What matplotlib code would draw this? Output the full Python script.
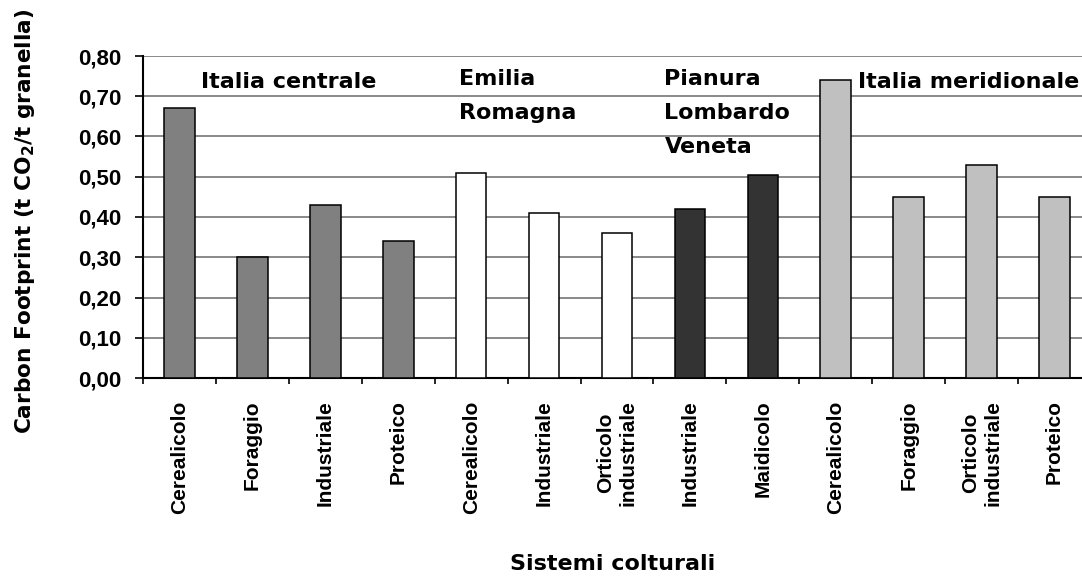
import numpy as np
import matplotlib.pyplot as plt

plt.rcParams['font.family'] = ['Liberation Sans', 'DejaVu Sans']
plt.rcParams['font.weight'] = 'bold'

# systems (x tick labels) and carbon footprint values
sistemi = ['Cerealicolo', 'Foraggio', 'Industriale', 'Proteico',
           'Cerealicolo', 'Industriale', 'Orticolo\nindustriale',
           'Industriale', 'Maidicolo',
           'Cerealicolo', 'Foraggio', 'Orticolo\nindustriale', 'Proteico']
footprint = [0.67, 0.30, 0.43, 0.34,
             0.51, 0.41, 0.36,
             0.42, 0.505,
             0.74, 0.45, 0.53, 0.45]
regione = ['centrale'] * 4 + ['emilia'] * 3 + ['padana'] * 2 + ['meridionale'] * 4
colori = {'centrale': '#808080', 'emilia': '#ffffff',
          'padana': '#333333', 'meridionale': '#c0c0c0'}

# wider font for the big labels (the original is letter-spaced)
wide = ['DejaVu Sans']

fig = plt.figure(figsize=(10.82, 5.76), dpi=100)
ax = fig.add_axes([143 / 1082, 1 - 378 / 576, 948 / 1082, 322 / 576])

x = np.arange(len(footprint))
ax.bar(x, footprint, width=0.42, color=[colori[r] for r in regione],
       edgecolor='black', linewidth=1.1, zorder=3)

ax.set_xlim(-0.5, len(footprint) - 0.5)
ax.set_ylim(0, 0.80)
ax.set_yticks(np.arange(0, 0.81, 0.10))
ax.set_yticklabels([f'{v:.2f}'.replace('.', ',') for v in np.arange(0, 0.81, 0.10)],
                   fontsize=16, fontweight='bold')
ax.yaxis.grid(True, color='#808080', linewidth=1.3, zorder=0)
ax.tick_params(axis='y', direction='out', length=5.8, width=1.2, pad=10)

ax.set_xticks(x)
ax.set_xticklabels(sistemi, rotation=90, fontsize=15, fontweight='bold',
                   va='top', ha='center', multialignment='center')
ax.set_xticks(np.arange(-0.5, len(footprint)), minor=True)
ax.tick_params(axis='x', which='major', length=0, pad=16)
ax.tick_params(axis='x', which='minor', direction='out', length=4, width=1.2)

for s in ['top', 'right']:
    ax.spines[s].set_visible(False)
for s in ['left', 'bottom']:
    ax.spines[s].set_linewidth(1.5)

# region labels
def etichetta(xd, righe, y0):
    for i, riga in enumerate(righe):
        ax.text(xd, y0 - i * 0.0845, riga, fontsize=16, fontweight='bold',
                family=wide, ha='left', va='center', zorder=4)

etichetta(0.30, ['Italia centrale'], 0.735)
etichetta(3.83, ['Emilia', 'Romagna'], 0.743)
etichetta(6.65, ['Pianura', 'Lombardo', 'Veneta'], 0.743)
etichetta(9.31, ['Italia meridionale'], 0.735)

fig.text(25 / 1082, 1 - 221 / 576, 'Carbon Footprint (t CO$_2$/t granella)',
         rotation=90, fontsize=15.6, fontweight='bold', family=wide,
         ha='center', va='center')
fig.text(613 / 1082, 1 - 570 / 576, 'Sistemi colturali',
         fontsize=16, fontweight='bold', family=wide, ha='center', va='baseline')

fig.savefig('out.png', dpi=100)
